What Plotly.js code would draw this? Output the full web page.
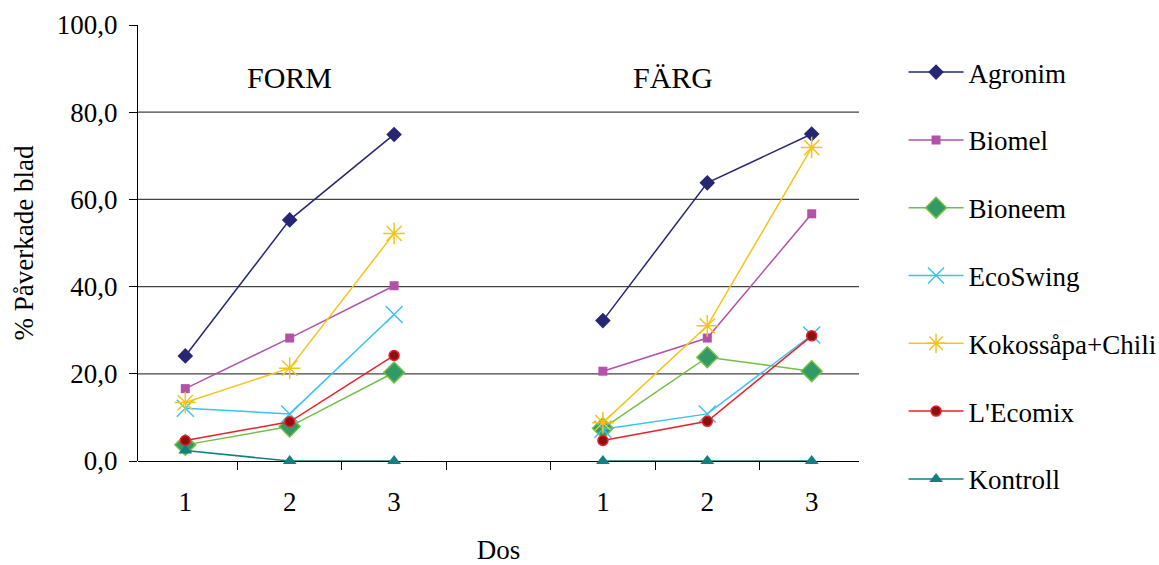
<!DOCTYPE html>
<html>
<head>
<meta charset="utf-8">
<script src="https://cdn.plot.ly/plotly-3.0.1.min.js"></script>
<style>
html,body{margin:0;padding:0;background:#fff;}
#chart{width:1159px;height:565px;}
</style>
</head>
<body>
<div id="chart"></div>
<script>
// Categories (7 slots: FORM doses, gap, FÄRG doses)
var categories = ["F1", "F2", "F3", "gap", "C1", "C2", "C3"];
var tickLabels = ["1", "2", "3", "", "1", "2", "3"];
var seriesNames = ["Agronim", "Biomel", "Bioneem", "EcoSwing", "Kokossåpa+Chili", "L'Ecomix", "Kontroll"];

// FORM values (dos 1,2,3)
var formAgronim = [24.1, 55.3, 74.9];
var formBiomel = [16.6, 28.2, 40.2];
var formBioneem = [3.7, 7.9, 20.3];
var formEcoSwing = [12.1, 10.8, 33.6];
var formKokos = [13.4, 21.3, 52.2];
var formEcomix = [4.7, 9.0, 24.2];
var formKontroll = [2.4, 0.0, 0.0];

// FÄRG values (dos 1,2,3)
var fargAgronim = [32.2, 63.8, 75.0];
var fargBiomel = [20.6, 28.2, 56.7];
var fargBioneem = [7.5, 23.8, 20.6];
var fargEcoSwing = [7.3, 10.8, 28.9];
var fargKokos = [8.8, 31.0, 71.9];
var fargEcomix = [4.7, 9.1, 28.7];
var fargKontroll = [0.0, 0.0, 0.0];

var gridValues = [20, 40, 60, 80];
var yTicks = [0, 20, 40, 60, 80, 100];
var groupTitles = ["FORM", "FÄRG"];

var formData = [formAgronim, formBiomel, formBioneem, formEcoSwing, formKokos, formEcomix, formKontroll];
var fargData = [fargAgronim, fargBiomel, fargBioneem, fargEcoSwing, fargKokos, fargEcomix, fargKontroll];

var styles = [
  {line: "#262673", marker: {symbol: "diamond", size: 12, color: "#262673"}},
  {line: "#b352a8", marker: {symbol: "square", size: 9, color: "#b352a8"}},
  {line: "#72bf44", marker: {symbol: "diamond", size: 16, color: "#339966", line: {color: "#72bf44", width: 1.5}}},
  {line: "#3bc3f0", marker: {symbol: "x-thin-open", size: 17, color: "#3bc3f0", line: {color: "#3bc3f0", width: 1.5}}},
  {line: "#f5c41c", marker: {symbol: "asterisk-open", size: 18, color: "#f5c41c", line: {color: "#f5c41c", width: 1.5}}},
  {line: "#e8212a", marker: {symbol: "circle", size: 10, color: "#8b1010", line: {color: "#e8212a", width: 1.5}}},
  {line: "#138080", marker: {symbol: "triangle-up", size: 12, color: "#138080"}}
];

var traces = seriesNames.map(function (name, i) {
  return {
    type: "scatter",
    mode: "lines+markers",
    name: name,
    legendgroup: name,
    x: categories,
    y: formData[i].concat([null], fargData[i]),
    connectgaps: false,
    line: {color: styles[i].line, width: 1.5},
    marker: styles[i].marker,
    cliponaxis: false
  };
});

var FONT = '"Liberation Serif", "Times New Roman", serif';
function f(size) { return {family: FONT, size: size, color: "#000"}; }

var shapes = gridValues.map(function (v) {
  return {type: "line", xref: "paper", yref: "y", x0: 0, x1: 1, y0: v, y1: v,
    line: {color: "#444", width: 1.2}, layer: "below"};
});

var annotations = [
  {text: groupTitles[0], xref: "x", yref: "y", x: categories[1], y: 88, showarrow: false,
   xanchor: "center", yanchor: "middle", font: f(30)},
  {text: groupTitles[1], xref: "paper", yref: "y", x: 0.742, y: 88, showarrow: false,
   xanchor: "center", yanchor: "middle", font: f(30)}
];

var layout = {
  width: 1159,
  height: 565,
  margin: {l: 138, r: 300, t: 25, b: 104, autoexpand: false},
  paper_bgcolor: "#fff",
  plot_bgcolor: "#fff",
  separators: ",.",
  font: f(27),
  showlegend: true,
  legend: {
    xref: "container", yref: "container",
    x: 0.7796, y: 0.915, xanchor: "left", yanchor: "top",
    font: f(27),
    itemwidth: 55,
    tracegroupgap: 29.7,
    maxheight: 565,
    bgcolor: "rgba(0,0,0,0)"
  },
  xaxis: {
    type: "category",
    categoryorder: "array",
    categoryarray: categories,
    tickvals: categories,
    ticktext: tickLabels,
    tickson: "boundaries",
    ticks: "outside",
    ticklen: 8,
    tickcolor: "#000",
    showgrid: false,
    zeroline: false,
    showline: false,
    ticklabelstandoff: 22,
    title: {text: "Dos", font: f(27), standoff: 36},
    tickfont: f(27),
    fixedrange: true
  },
  yaxis: {
    range: [0, 100],
    tickvals: yTicks,
    tickformat: ".1f",
    ticks: "outside",
    ticklen: 8,
    tickcolor: "#000",
    showline: true,
    linecolor: "#000",
    linewidth: 1,
    showgrid: false,
    zeroline: true,
    zerolinecolor: "#000",
    zerolinewidth: 1,
    ticklabelstandoff: 6,
    title: {text: "% Påverkade blad", font: f(27), standoff: 15},
    tickfont: f(27),
    fixedrange: true
  },
  shapes: shapes,
  annotations: annotations
};

Plotly.newPlot("chart", traces, layout, {staticPlot: true, displayModeBar: false});
</script>
</body>
</html>
